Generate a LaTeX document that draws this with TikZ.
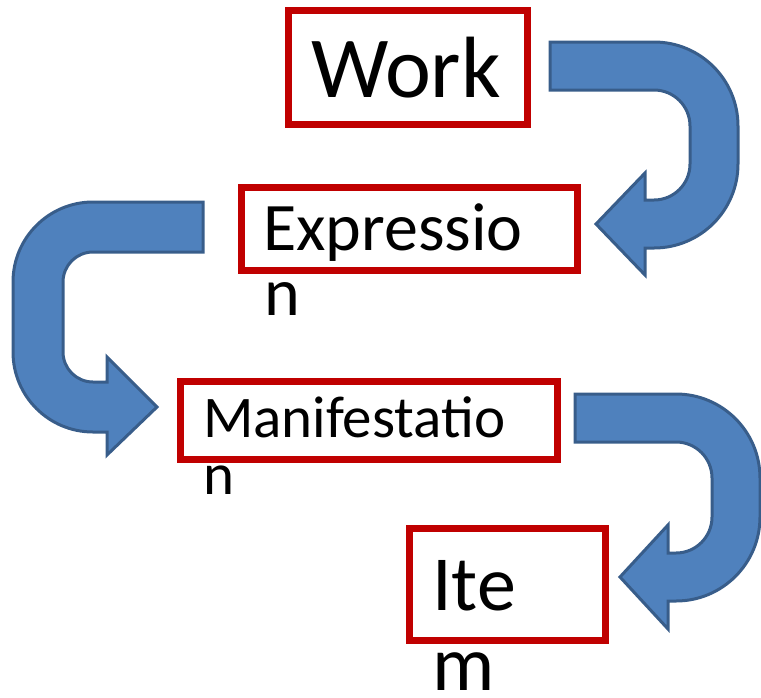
\documentclass[tikz,border=0pt]{standalone}
\usepackage{fontspec}
\setmainfont{Carlito}
\definecolor{boxred}{HTML}{C00000}
\definecolor{arrowfill}{HTML}{4F81BD}
\definecolor{arrowline}{HTML}{385D8A}
\begin{document}
\begin{tikzpicture}[x=1pt,y=-1pt,
  redbox/.style={draw=boxred,line width=7pt,inner sep=0pt,fill=none},
  uarrow/.style={fill=arrowfill,draw=arrowline,line width=3pt,line join=miter},
  lbl/.style={anchor=base west,inner sep=0pt,text=black}]
\useasboundingbox (0,0) rectangle (761,697);
% boxes
\node[redbox,minimum width=239pt,minimum height=114pt] (work) at (407.5,67) {};
\node[redbox,minimum width=336pt,minimum height=83pt] (expr) at (409,228.5) {};
\node[redbox,minimum width=377pt,minimum height=78pt] (mani) at (368.5,420) {};
\node[redbox,minimum width=196pt,minimum height=112pt] (item) at (507,584) {};
% labels
\node[lbl,font=\fontsize{87}{87}\selectfont] (workA) at (311,97) {Work};
\node[lbl,font=\fontsize{68}{68}\selectfont] (exprA) at (263,250) {Expressio};
\node[lbl,font=\fontsize{68}{68}\selectfont] (exprB) at (264,315) {n};
\node[lbl,font=\fontsize{59}{59}\selectfont] (maniA) at (203,437) {Manifestatio};
\node[lbl,font=\fontsize{59}{59}\selectfont] (maniB) at (203,494) {n};
\node[lbl,font=\fontsize{78}{78}\selectfont] (itemA) at (432,610) {Ite};
\node[lbl,font=\fontsize{78}{78}\selectfont] (itemB) at (432,690) {m};
% arrow 1: Work -> Expression
\draw[uarrow] (550,42) -- (654,42) arc[start angle=-90,end angle=0,radius=84]
  -- (738,164) arc[start angle=0,end angle=90,radius=84]
  -- (645,248) -- (645,275) -- (596,224) -- (645,173) -- (645,200) -- (654,200)
  arc[start angle=90,end angle=0,radius=36] -- (690,126)
  arc[start angle=0,end angle=-90,radius=36] -- (550,90) -- cycle;
% arrow 2: Expression -> Manifestation
\draw[uarrow] (203,202) -- (93,202) arc[start angle=-90,end angle=-180,radius=80]
  -- (13,352) arc[start angle=180,end angle=90,radius=80]
  -- (107,432) -- (107,455) -- (157,407) -- (107,357) -- (107,382) -- (93,382)
  arc[start angle=90,end angle=180,radius=30] -- (63,282)
  arc[start angle=180,end angle=270,radius=30] -- (203,252) -- cycle;
% arrow 3: Manifestation -> Item
\draw[uarrow] (575,394) -- (676,394) arc[start angle=-90,end angle=0,radius=84]
  -- (760,517) arc[start angle=0,end angle=90,radius=84]
  -- (668,601) -- (668,629) -- (620,577) -- (668,525) -- (668,553) -- (676,553)
  arc[start angle=90,end angle=0,radius=36] -- (712,478)
  arc[start angle=0,end angle=-90,radius=36] -- (575,442) -- cycle;
\end{tikzpicture}
\end{document}
